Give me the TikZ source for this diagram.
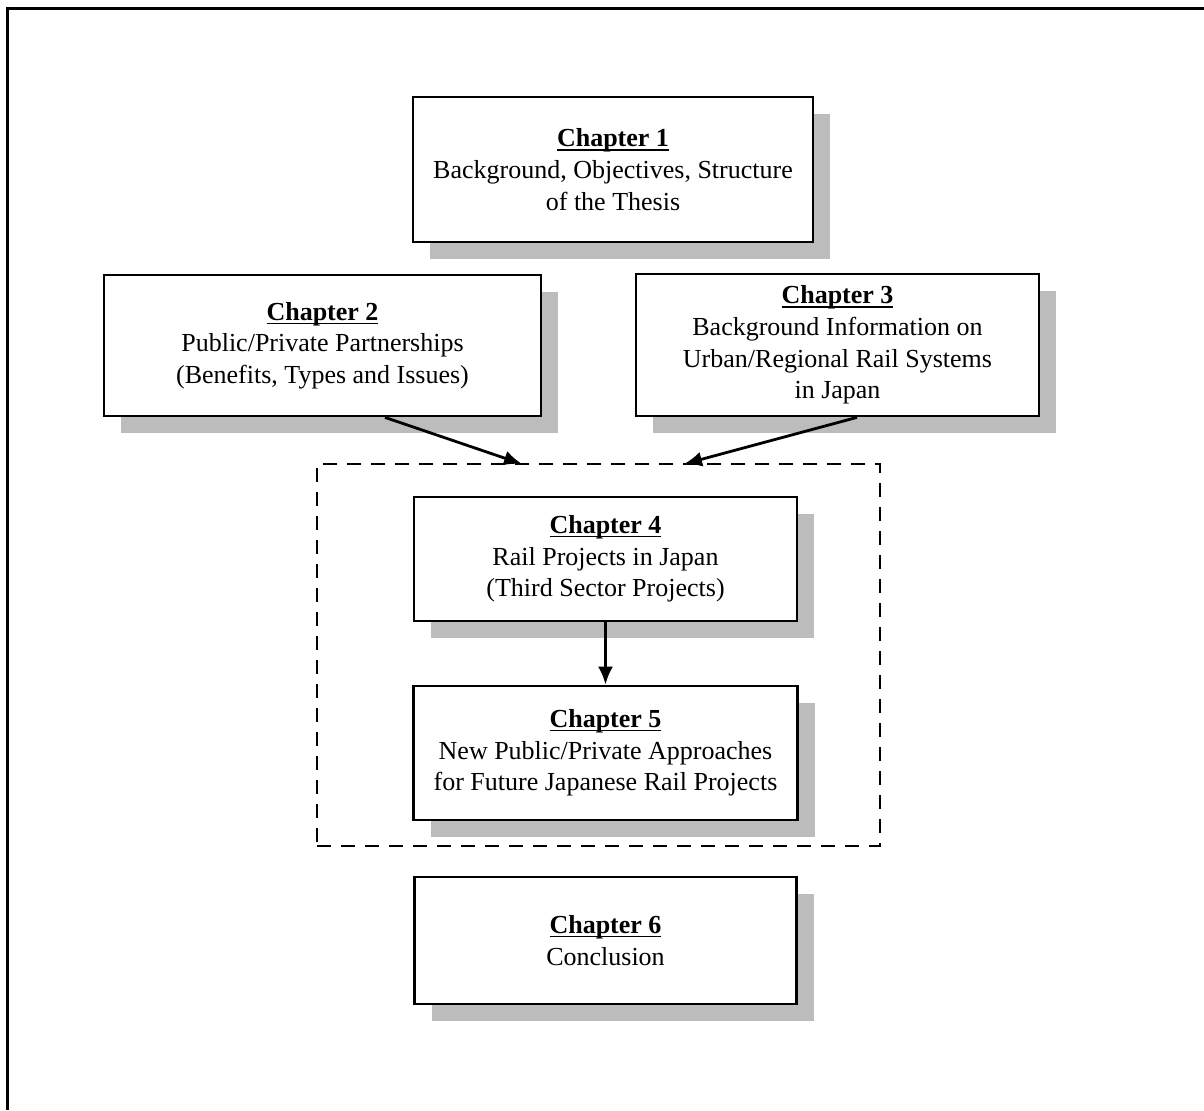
\documentclass[tikz,border=0pt]{standalone}
\usepackage{fontspec}
\setmainfont{Liberation Serif}
\usepackage{xcolor}
\usepackage{tikz}
\usetikzlibrary{arrows.meta, positioning, shadows}
\definecolor{shadowgrey}{RGB}{188,188,188}
\newcommand{\chaptitle}[1]{\setbox0\hbox{\textbf{#1}}\rlap{\rule[-1.9pt]{\wd0}{0.65pt}}\box0}

\begin{document}
\begin{tikzpicture}[
    x=0.5pt, y=-0.5pt,
    node distance=31.1pt,
    chapbox/.style={rectangle, draw=black, fill=white, line width=1.4pt, inner sep=0pt, align=center, font=\fontsize{13}{15.8}\selectfont, drop shadow={shadow xshift=8.5pt, shadow yshift=-8.5pt, fill=shadowgrey, opacity=1}},
    groupbox/.style={rectangle, draw=black, line width=1.3pt, dash pattern=on 7pt off 5pt, minimum width=281.5pt, minimum height=191pt},
    line/.style={draw, -{Latex[length=9pt, width=7.5pt]}, line width=1.4pt}
]
\useasboundingbox (0,0) rectangle (1204,1110);
\draw [line width=1.5pt] (7,1110) -- (7,8) -- (1204,8);

% Nodes
\node [chapbox, minimum width=200pt, minimum height=72.5pt] (ch1) at (613,169.5) {\chaptitle{Chapter 1}\\Background, Objectives, Structure\\of the Thesis};
\node [chapbox, minimum width=218.5pt, minimum height=70.5pt] (ch2) at (322.5,345.5) {\chaptitle{Chapter 2}\\Public/Private Partnerships\\(Benefits, Types and Issues)};
\node [chapbox, minimum width=201.5pt, minimum height=71pt] (ch3) at (837.5,345) {\chaptitle{Chapter 3}\\Background Information on\\Urban/Regional Rail Systems\\in Japan};
\node [groupbox] (grp) at (598.5,655) {};
\node [chapbox, minimum width=191.5pt, minimum height=62pt] (ch4) at (605.5,559) {\chaptitle{Chapter 4}\\Rail Projects in Japan\\(Third Sector Projects)};
\node [chapbox, minimum width=192pt, minimum height=67pt, below=of ch4] (ch5) {\chaptitle{Chapter 5}\\New Public/Private Approaches\\for Future Japanese Rail Projects};
\node [chapbox, minimum width=191pt, minimum height=63.5pt, below=27.1pt of ch5] (ch6) {\chaptitle{Chapter 6}\\Conclusion};

% Connectors
\coordinate (in2) at (522,464);
\coordinate (in3) at (684,464);
\path [line] (ch2.-49) -- (in2);
\path [line] (ch3.-75) -- (in3);
\path [line] (ch4) -- (ch5);

\end{tikzpicture}
\end{document}
